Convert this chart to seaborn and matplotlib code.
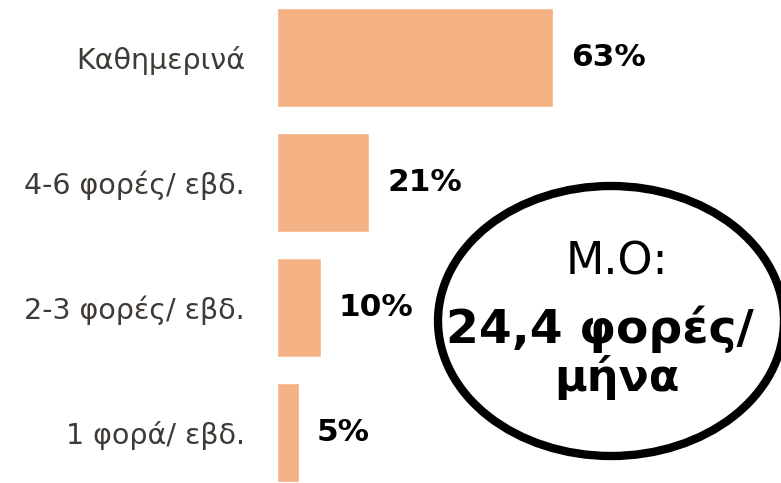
import matplotlib
matplotlib.use("Agg")
import matplotlib.pyplot as plt
from matplotlib.patches import Ellipse
import seaborn as sns
import pandas as pd

# Data
categories = ["Καθημερινά", "4-6 φορές/ εβδ.", "2-3 φορές/ εβδ.", "1 φορά/ εβδ."]
values = [63, 21, 10, 5]
value_labels = ["63%", "21%", "10%", "5%"]
note_title = "Μ.Ο:"
note_lines = ["24,4 φορές/", "μήνα"]

BAR_COLOR = "#F4B183"
LABEL_COLOR = "#3F3A35"

sns.set_style("white")
plt.rcParams["font.family"] = ["DejaVu Sans"]

df = pd.DataFrame({"cat": categories, "val": values})

fig = plt.figure(figsize=(7.81, 4.83), dpi=100)
ax = fig.add_axes([277 / 781, 0, 504 / 781, 1])

sns.barplot(data=df, x="val", y="cat", color=BAR_COLOR, width=0.79,
            saturation=1, ax=ax)

ax.set_xlim(0, 504 / 4.38)
ax.set_ylim(3 + 50.5 / 125, -57.5 / 125)
ax.set_xlabel("")
ax.set_ylabel("")
ax.set_xticks([])
sns.despine(ax=ax, left=True, bottom=True)
ax.tick_params(axis="y", length=0, pad=23, labelsize=20.5, labelcolor=LABEL_COLOR)

ax.bar_label(ax.containers[0], labels=value_labels, padding=13,
             fontsize=22.5, fontweight="bold", color="black")

# Callout ellipse with the average
ell = Ellipse((611 / 781, 1 - 321 / 483), 346 / 781, 270 / 483,
              transform=fig.transFigure, facecolor="white",
              edgecolor="black", linewidth=6, zorder=5)
fig.patches.append(ell)
fig.text(617 / 781, 1 - 262 / 483, note_title, ha="center", va="center",
         fontsize=32, color="black", zorder=6)
fig.text(600 / 781, 1 - 329 / 483, note_lines[0], ha="center", va="center",
         fontsize=34, fontweight="bold", color="black", zorder=6)
fig.text(617 / 781, 1 - 378 / 483, note_lines[1], ha="center", va="center",
         fontsize=32, fontweight="bold", color="black", zorder=6)

fig.savefig("out.png", dpi=100)
